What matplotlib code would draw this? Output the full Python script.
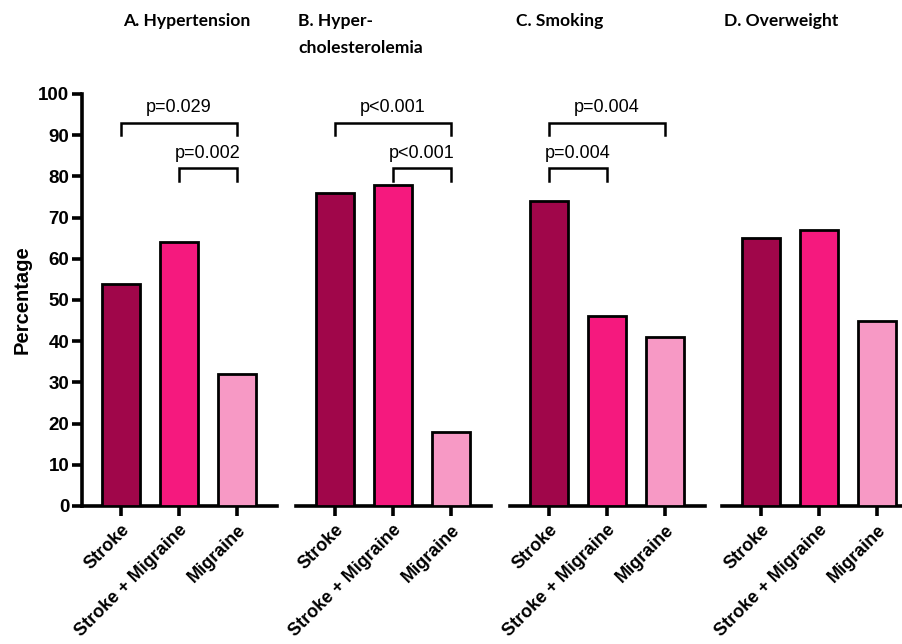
import matplotlib
matplotlib.use("Agg")
import matplotlib.pyplot as plt

categories = ["Stroke", "Stroke + Migraine", "Migraine"]
titles = ["A. Hypertension", "B. Hyper-\ncholesterolemia", "C. Smoking", "D. Overweight"]
hypertension = [54, 64, 32]
hypercholesterolemia = [76, 78, 18]
smoking = [74, 46, 41]
overweight = [65, 67, 45]
panel_values = [hypertension, hypercholesterolemia, smoking, overweight]
# brackets: (panel index, start cat, end cat, level, label)
brackets = [
    (0, 0, 2, 93, "p=0.029"),
    (0, 1, 2, 82, "p=0.002"),
    (1, 0, 2, 93, "p<0.001"),
    (1, 1, 2, 82, "p<0.001"),
    (2, 0, 2, 93, "p=0.004"),
    (2, 0, 1, 82, "p=0.004"),
]
yticks = list(range(0, 101, 10))
colors = ["#A0064A", "#F5197E", "#F799C5"]

W, H = 903, 644
fig = plt.figure(figsize=(W / 100, H / 100), dpi=100)

y0_px, y100_px = 506, 94
lefts = [82, 296, 510, 722]
width_px = 195
unit_px = 58.0
xmin = -(121 - 82) / unit_px
xmax = xmin + width_px / unit_px
title_x = [123, 298, 516, 724]

axes = []
for i, vals in enumerate(panel_values):
    ax = fig.add_axes([lefts[i] / W, (H - y0_px) / H, width_px / W, (y0_px - y100_px) / H])
    axes.append(ax)
    ax.bar(range(3), vals, width=0.64, color=colors, edgecolor="black", linewidth=2, zorder=3)
    ax.set_xlim(xmin, xmax)
    ax.set_ylim(0, 100)
    for s in ["top", "right"]:
        ax.spines[s].set_visible(False)
    ax.spines["bottom"].set_linewidth(2.6)
    ax.spines["left"].set_linewidth(2.6)
    ax.set_xticks(range(3))
    ax.set_xticklabels(categories, rotation=45, ha="right", rotation_mode="anchor",
                       fontsize=13, fontweight="bold", family="Liberation Sans")
    ax.tick_params(axis="x", length=7, width=2.6, pad=4)
    if i == 0:
        ax.set_yticks(yticks)
        ax.set_yticklabels([str(t) for t in yticks], fontsize=13.5, fontweight="bold",
                           family="Liberation Sans")
        ax.tick_params(axis="y", length=7, width=2.6, pad=2)
        ax.set_ylabel("Percentage", fontsize=14.5, fontweight="bold", family="Liberation Sans",
                      labelpad=5)
    else:
        ax.spines["left"].set_visible(False)
        ax.set_yticks([])
    fig.text(title_x[i] / W, 1 - 13 / H, titles[i], ha="left", va="top", fontsize=12.6,
             fontweight="bold", family="Lato", linespacing=1.85)

for (pi, a, b, lvl, lab) in brackets:
    ax = axes[pi]
    leg = 3.0
    ax.plot([a, a, b, b], [lvl - leg, lvl, lvl, lvl - leg], color="black", lw=1.8,
            clip_on=False, solid_joinstyle="miter")
    ax.text((a + b) / 2, lvl + 1.6, lab, ha="center", va="bottom", fontsize=13,
            family="Liberation Sans", clip_on=False)

fig.savefig("out.png", dpi=100)
